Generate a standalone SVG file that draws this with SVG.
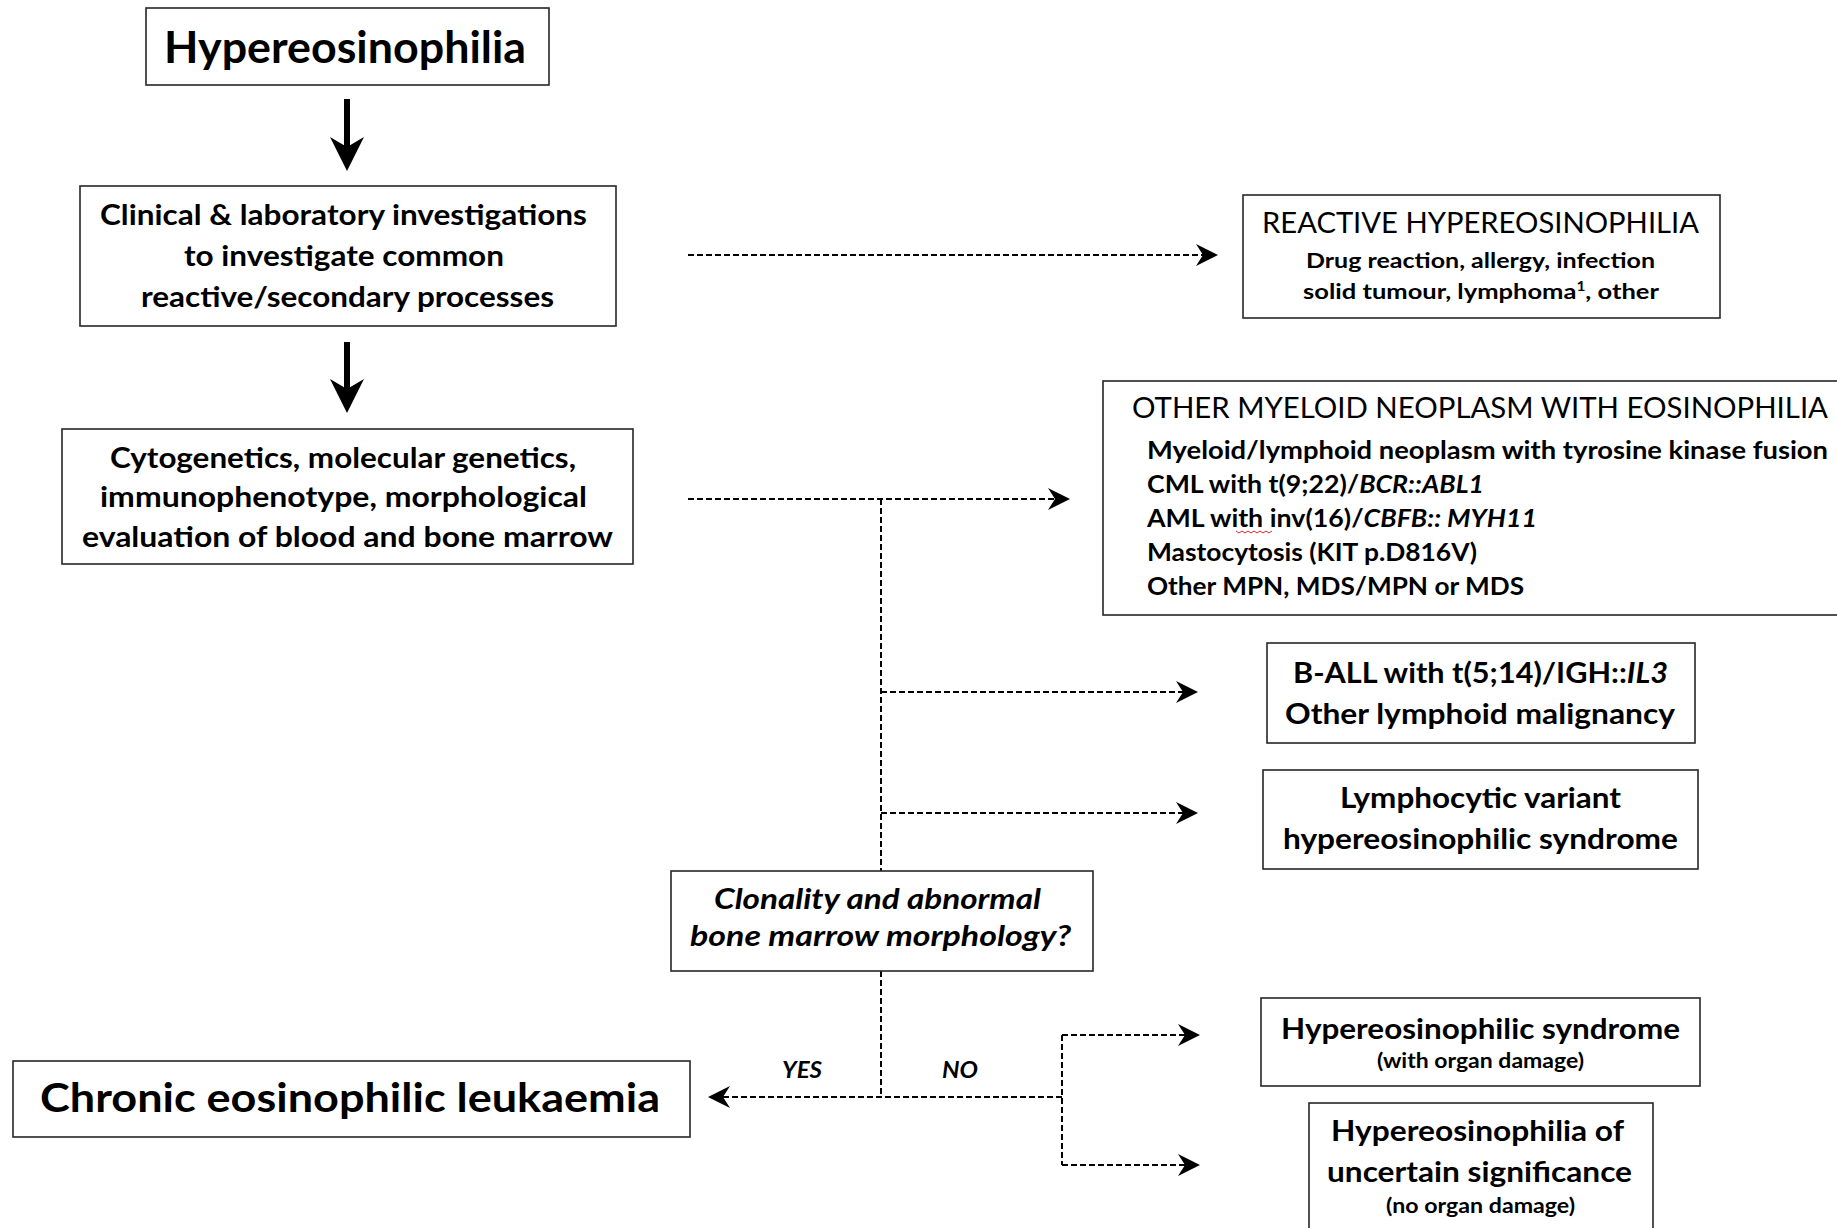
<svg xmlns="http://www.w3.org/2000/svg" width="1837" height="1228" viewBox="0 0 1837 1228">
<style>
  .box { fill: #ffffff; stroke: #262626; stroke-width: 1.6; }
  text { font-family: Lato, "Liberation Sans", sans-serif; fill: #000; }
  .b { font-weight: bold; }
  .r { font-weight: normal; }
  .i { font-style: italic; }
  .dash { fill: none; stroke: #000; stroke-width: 2; stroke-dasharray: 6 3; }
  .solid { fill: none; stroke: #000; stroke-width: 6; }
</style>
<defs>
  <marker id="bigHead" markerUnits="userSpaceOnUse" viewBox="0 0 34 34" refX="13" refY="17" markerWidth="34" markerHeight="34" orient="auto">
    <path d="M0,0 L34,17 L0,34 L10,17 Z" fill="#000"/>
  </marker>
  <marker id="dashHead" markerUnits="userSpaceOnUse" viewBox="0 0 24 24" refX="14" refY="12" markerWidth="24" markerHeight="24" orient="auto">
    <path d="M0,1 L22,12 L0,23 L7,12 Z" fill="#000"/>
  </marker>
</defs>
<rect width="1837" height="1228" fill="#ffffff"/>

<g id="connectors">
  <path class="solid" d="M347,99 V150" marker-end="url(#bigHead)"/>
  <path class="solid" d="M347,342 V392" marker-end="url(#bigHead)"/>
  <path class="dash" d="M688,255 H1210" marker-end="url(#dashHead)"/>
  <path class="dash" d="M688,499 H1062" marker-end="url(#dashHead)"/>
  <path class="dash" d="M881,499 V871"/>
  <path class="dash" d="M881,692 H1190" marker-end="url(#dashHead)"/>
  <path class="dash" d="M881,813 H1190" marker-end="url(#dashHead)"/>
  <path class="dash" d="M881,971 V1097"/>
  <path class="dash" d="M1062,1097 H716" marker-end="url(#dashHead)"/>
  <path class="dash" d="M1062,1035 V1165"/>
  <path class="dash" d="M1062,1035 H1192" marker-end="url(#dashHead)"/>
  <path class="dash" d="M1062,1165 H1192" marker-end="url(#dashHead)"/>
  <text class="b i" x="782" y="1078" font-size="22" textLength="40" lengthAdjust="spacingAndGlyphs">YES</text>
  <text class="b i" x="942" y="1078" font-size="22" textLength="36" lengthAdjust="spacingAndGlyphs">NO</text>
</g>

<g id="n-hypereosinophilia">
  <rect class="box" x="146" y="8" width="403" height="77"/>
  <text class="b" x="164" y="63" font-size="44" textLength="362" lengthAdjust="spacingAndGlyphs">Hypereosinophilia</text>
</g>

<g id="n-clinical">
  <rect class="box" x="80" y="186" width="536" height="140"/>
  <text class="b" x="100" y="225" font-size="28" textLength="487" lengthAdjust="spacingAndGlyphs">Clinical &amp; laboratory investigations</text>
  <text class="b" x="184" y="266" font-size="28" textLength="320" lengthAdjust="spacingAndGlyphs">to investigate common</text>
  <text class="b" x="141" y="307" font-size="28" textLength="413" lengthAdjust="spacingAndGlyphs">reactive/secondary processes</text>
</g>

<g id="n-cytogenetics">
  <rect class="box" x="62" y="429" width="571" height="135"/>
  <text class="b" x="110" y="468" font-size="28" textLength="466" lengthAdjust="spacingAndGlyphs">Cytogenetics, molecular genetics,</text>
  <text class="b" x="100" y="507" font-size="28" textLength="487" lengthAdjust="spacingAndGlyphs">immunophenotype, morphological</text>
  <text class="b" x="82" y="547" font-size="28" textLength="531" lengthAdjust="spacingAndGlyphs">evaluation of blood and bone marrow</text>
</g>

<g id="n-reactive">
  <rect class="box" x="1243" y="195" width="477" height="123"/>
  <text class="r" x="1262" y="233" font-size="29" textLength="437" lengthAdjust="spacingAndGlyphs">REACTIVE HYPEREOSINOPHILIA</text>
  <text class="b" x="1306" y="268" font-size="21.5" textLength="349" lengthAdjust="spacingAndGlyphs">Drug reaction, allergy, infection</text>
  <text class="b" x="1303" y="299" font-size="21.5" textLength="356" lengthAdjust="spacingAndGlyphs">solid tumour, lymphoma<tspan font-size="13" dy="-8">1</tspan><tspan dy="8">, other</tspan></text>
</g>

<g id="n-other-myeloid">
  <rect class="box" x="1103" y="381" width="760" height="234"/>
  <text class="r" x="1132" y="418" font-size="29" textLength="696" lengthAdjust="spacingAndGlyphs">OTHER MYELOID NEOPLASM WITH EOSINOPHILIA</text>
  <text class="b" x="1147" y="459" font-size="24" textLength="681" lengthAdjust="spacingAndGlyphs">Myeloid/lymphoid neoplasm with tyrosine kinase fusion</text>
  <text class="b" x="1147" y="493" font-size="24" textLength="337" lengthAdjust="spacingAndGlyphs">CML with t(9;22)/<tspan class="i">BCR::ABL1</tspan></text>
  <text class="b" x="1147" y="527" font-size="24" textLength="390" lengthAdjust="spacingAndGlyphs">AML with inv(16)/<tspan class="i">CBFB:: MYH11</tspan></text>
  <path d="M1236,531 l3,2 l3,-2 l3,2 l3,-2 l3,2 l3,-2 l3,2 l3,-2 l3,2 l3,-2 l3,2 l3,-2" fill="none" stroke="#e0242a" stroke-width="1"/>
  <text class="b" x="1147" y="561" font-size="24" textLength="330" lengthAdjust="spacingAndGlyphs">Mastocytosis (KIT p.D816V)</text>
  <text class="b" x="1147" y="595" font-size="24" textLength="377" lengthAdjust="spacingAndGlyphs">Other MPN, MDS/MPN or MDS</text>
</g>

<g id="n-ball">
  <rect class="box" x="1267" y="643" width="428" height="100"/>
  <text class="b" x="1293" y="683" font-size="28" textLength="375" lengthAdjust="spacingAndGlyphs">B-ALL with t(5;14)/IGH::<tspan class="i">IL3</tspan></text>
  <text class="b" x="1285" y="724" font-size="28" textLength="390" lengthAdjust="spacingAndGlyphs">Other lymphoid malignancy</text>
</g>

<g id="n-lymphocytic">
  <rect class="box" x="1263" y="770" width="435" height="99"/>
  <text class="b" x="1340" y="808" font-size="28" textLength="281" lengthAdjust="spacingAndGlyphs">Lymphocytic variant</text>
  <text class="b" x="1283" y="849" font-size="28" textLength="395" lengthAdjust="spacingAndGlyphs">hypereosinophilic syndrome</text>
</g>

<g id="n-clonality">
  <rect class="box" x="671" y="871" width="422" height="100"/>
  <text class="b i" x="714" y="909" font-size="28" textLength="327" lengthAdjust="spacingAndGlyphs">Clonality and abnormal</text>
  <text class="b i" x="690" y="946" font-size="28" textLength="381" lengthAdjust="spacingAndGlyphs">bone marrow morphology?</text>
</g>

<g id="n-cel">
  <rect class="box" x="13" y="1061" width="677" height="76"/>
  <text class="b" x="40" y="1112" font-size="41" textLength="620" lengthAdjust="spacingAndGlyphs">Chronic eosinophilic leukaemia</text>
</g>

<g id="n-hes">
  <rect class="box" x="1261" y="998" width="439" height="88"/>
  <text class="b" x="1281" y="1039" font-size="28" textLength="399" lengthAdjust="spacingAndGlyphs">Hypereosinophilic syndrome</text>
  <text class="b" x="1377" y="1068" font-size="20" textLength="207" lengthAdjust="spacingAndGlyphs">(with organ damage)</text>
</g>

<g id="n-hus">
  <rect class="box" x="1309" y="1103" width="344" height="140"/>
  <text class="b" x="1331" y="1141" font-size="28" textLength="293" lengthAdjust="spacingAndGlyphs">Hypereosinophilia of</text>
  <text class="b" x="1327" y="1182" font-size="28" textLength="305" lengthAdjust="spacingAndGlyphs">uncertain significance</text>
  <text class="b" x="1386" y="1213" font-size="20" textLength="189" lengthAdjust="spacingAndGlyphs">(no organ damage)</text>
</g>
</svg>
